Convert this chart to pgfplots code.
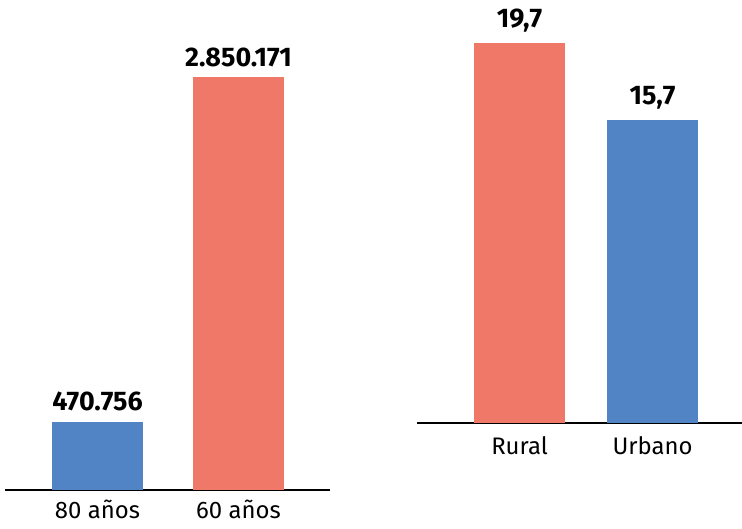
\documentclass[border=0pt]{standalone}
\usepackage{pgfplots}
\pgfplotsset{compat=1.18}
\usepackage{fontspec}
\setmainfont{Fira Sans}
\definecolor{cblue}{HTML}{5084C4}
\definecolor{cred}{HTML}{F07868}
\begin{document}
\begin{tikzpicture}[x=1bp,y=1bp]
\path[use as bounding box] (0,0) rectangle (742,529);
% left panel
\begin{axis}[
  at={(5bp,39bp)}, anchor=south west,
  scale only axis, width=325bp, height=413bp,
  xmin=-0.656, xmax=1.649, ymin=0, ymax=2850171,
  axis x line=bottom, axis y line=none,
  x axis line style={black, line width=1.5bp, -},
  ytick=\empty, xtick={0,1}, xticklabels={80 años,60 años},
  xtick style={draw=none},
  xticklabel style={font=\fontsize{24}{27}\selectfont, yshift=-7bp, inner sep=1bp},
  bar width=91bp, clip=false,
  nodes near coords,
  every node near coord/.append style={font=\fontsize{27}{30}\selectfont\bfseries, black, yshift=7bp},
]
\addplot[ybar, fill=cblue, draw=none, point meta=explicit symbolic] coordinates {(0,470756) [470.756]};
\addplot[ybar, fill=cred, draw=none, point meta=explicit symbolic] coordinates {(1,2850171) [2.850.171]};
\end{axis}
% right panel
\begin{axis}[
  at={(417bp,106bp)}, anchor=south west,
  scale only axis, width=325bp, height=380bp,
  xmin=-0.771, xmax=1.673, ymin=0, ymax=19.7,
  axis x line=bottom, axis y line=none,
  x axis line style={black, line width=1.5bp, -},
  ytick=\empty, xtick={0,1}, xticklabels={Rural,Urbano},
  xtick style={draw=none},
  xticklabel style={font=\fontsize{24}{27}\selectfont, yshift=-10bp, inner sep=1bp},
  bar width=91bp, clip=false,
  nodes near coords,
  every node near coord/.append style={font=\fontsize{27}{30}\selectfont\bfseries, black, yshift=7bp},
]
\addplot[ybar, fill=cred, draw=none, point meta=explicit symbolic] coordinates {(0,19.7) [19,7]};
\addplot[ybar, fill=cblue, draw=none, point meta=explicit symbolic] coordinates {(1,15.7) [15,7]};
\end{axis}
\end{tikzpicture}
\end{document}
